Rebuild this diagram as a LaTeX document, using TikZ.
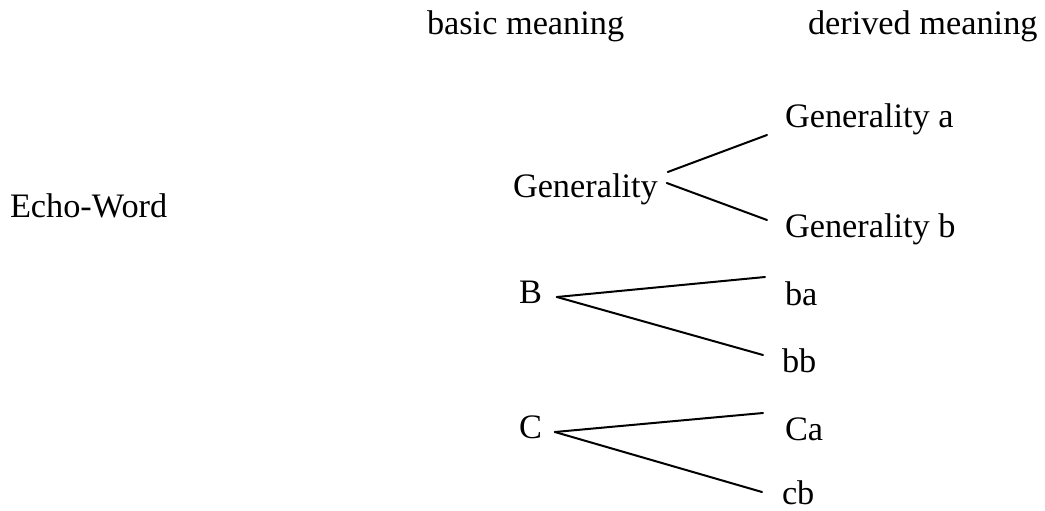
\documentclass[tikz,border=0pt]{standalone}
\usepackage{fontspec}
\setmainfont{Liberation Serif}
\usetikzlibrary{calc}
\tikzset{
  lbl/.style={inner sep=0pt, outer sep=0pt, font=\fontsize{34.3}{40}\selectfont},
  conn/.style={line width=2pt, line cap=round}
}
\begin{document}
\begin{tikzpicture}[x=1pt,y=-1pt]
\useasboundingbox (0,0) rectangle (1045,511);
\node[lbl, anchor=base west] (basic) at (427,35) {basic meaning};
\node[lbl, anchor=base west] (derived) at (808,35) {derived meaning};
\node[lbl, anchor=base west] (echo) at (10,217) {Echo-Word};
\node[lbl, anchor=base west] (gen) at (513,197) {Generality};
\node[lbl, anchor=base west] (ga) at (785,128) {Generality a};
\node[lbl, anchor=base west] (gb) at (785,237) {Generality b};
\node[lbl, anchor=base west] (B) at (519,303) {B};
\node[lbl, anchor=base west] (ba) at (785,305) {ba};
\node[lbl, anchor=base west] (bb) at (782,372) {bb};
\node[lbl, anchor=base west] (C) at (519,438) {C};
\node[lbl, anchor=base west] (Ca) at (785,440) {Ca};
\node[lbl, anchor=base west] (cb) at (782,504) {cb};
\draw[conn] ($(gen.base east)+(10,-25)$) -- ($(ga.base west)+(-18,7)$);
\draw[conn] ($(gen.base east)+(9,-14)$) -- ($(gb.base west)+(-18,-17)$);
\draw[conn] ($(B.base east)+(15,-6)$) -- ($(ba.base west)+(-20,-28)$);
\draw[conn] ($(B.base east)+(15,-6)$) -- ($(bb.base west)+(-19,-17)$);
\draw[conn] ($(C.base east)+(13,-6)$) -- ($(Ca.base west)+(-22,-27)$);
\draw[conn] ($(C.base east)+(13,-6)$) -- ($(cb.base west)+(-20,-12)$);
\end{tikzpicture}
\end{document}
